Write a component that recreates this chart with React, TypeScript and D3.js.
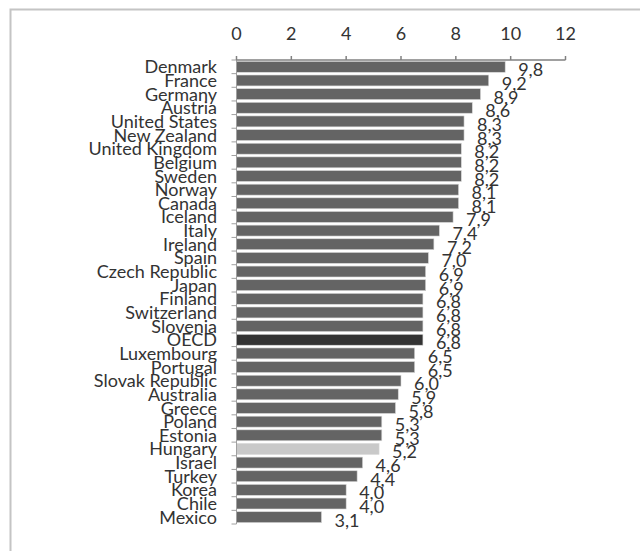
import React from "react";
import * as d3 from "d3";

const countries = [
  "Denmark", "France", "Germany", "Austria", "United States", "New Zealand",
  "United Kingdom", "Belgium", "Sweden", "Norway", "Canada", "Iceland",
  "Italy", "Ireland", "Spain", "Czech Republic", "Japan", "Finland",
  "Switzerland", "Slovenia", "OECD", "Luxembourg", "Portugal",
  "Slovak Republic", "Australia", "Greece", "Poland", "Estonia", "Hungary",
  "Israel", "Turkey", "Korea", "Chile", "Mexico",
];
const values = [
  9.8, 9.2, 8.9, 8.6, 8.3, 8.3, 8.2, 8.2, 8.2, 8.1, 8.1, 7.9, 7.4, 7.2, 7.0,
  6.9, 6.9, 6.8, 6.8, 6.8, 6.8, 6.5, 6.5, 6.0, 5.9, 5.8, 5.3, 5.3, 5.2, 4.6,
  4.4, 4.0, 4.0, 3.1,
];
const xTicks = [0, 2, 4, 6, 8, 10, 12];

const W = 640;
const H = 551;
const FONT = "Lato, 'Open Sans', sans-serif";

export default function App() {
  const x = d3.scaleLinear().domain([0, 12]).range([236.5, 565.5]);
  const y = d3
    .scaleBand<string>()
    .domain(countries)
    .range([60, 524])
    .paddingInner(0.2)
    .paddingOuter(0.1);
  const step = y.step();
  const colorFor = (c: string) =>
    c === "OECD" ? "#333333" : c === "Hungary" ? "#c9c9c9" : "#646464";
  const fmt = (v: number) => d3.format(".1f")(v).replace(".", ",");
  const x0 = x(0);
  const top = 60;
  const bottom = 60 + step * countries.length;

  return (
    <svg
      width={W}
      height={H}
      style={{ position: "absolute", left: 0, top: 0, background: "#fff" }}
      fontFamily={FONT}
    >
      <rect x={10.5} y={9.5} width={700} height={600} fill="#fff" stroke="#c4c4c4" strokeWidth={2} />

      {/* bars */}
      {countries.map((c, i) => (
        <rect
          key={c}
          x={x0}
          y={y(c)!}
          width={x(values[i]) - x0}
          height={y.bandwidth()}
          fill={colorFor(c)}
          stroke="#d8d8d8"
          strokeWidth={0.6}
        />
      ))}

      {/* left axis */}
      <line x1={x0} x2={x0} y1={top} y2={bottom} stroke="#a0a0a0" strokeWidth={1} />
      {d3.range(countries.length + 1).map((i) => (
        <line
          key={i}
          x1={x0 - 5}
          x2={x0}
          y1={top + i * step}
          y2={top + i * step}
          stroke="#a0a0a0"
          strokeWidth={1}
        />
      ))}

      {/* top axis */}
      <line x1={x0} x2={x(12)} y1={top} y2={top} stroke="#808080" strokeWidth={1.5} />
      {xTicks.map((t) => (
        <g key={t}>
          <line x1={x(t)} x2={x(t)} y1={top - 4} y2={top} stroke="#808080" strokeWidth={1.5} />
          <text x={x(t)} y={40} textAnchor="middle" fontSize={18} fill="#333">
            {t}
          </text>
        </g>
      ))}

      {/* category labels */}
      {countries.map((c) => (
        <text
          key={c}
          x={217}
          y={y(c)! + y.bandwidth() / 2 + 6.5}
          textAnchor="end"
          fontSize={18}
          fill="#333"
        >
          {c}
        </text>
      ))}

      {/* value labels */}
      {countries.map((c, i) => (
        <text
          key={c}
          x={x(values[i]) + 13}
          y={y(c)! + y.bandwidth() / 2 + 9.5}
          textAnchor="start"
          fontSize={18}
          fill="#333"
        >
          {fmt(values[i])}
        </text>
      ))}
    </svg>
  );
}
